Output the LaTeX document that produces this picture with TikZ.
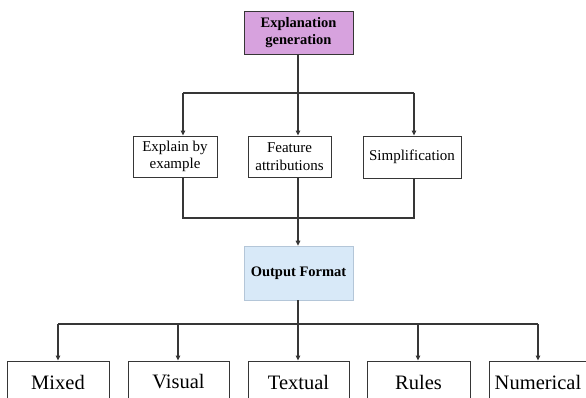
\documentclass[tikz,border=0pt]{standalone}
\usepackage{fontspec}
\setmainfont{Liberation Serif}
\usetikzlibrary{arrows.meta}
\definecolor{lc}{HTML}{363636}
\definecolor{purp}{HTML}{D7A2DE}
\definecolor{lblue}{HTML}{D8E9F8}
\definecolor{bblue}{HTML}{B4C6D8}
\begin{document}
\begin{tikzpicture}[x=1pt,y=-1pt,
  box/.style={draw=lc, line width=0.9pt, inner sep=0pt, align=center},
  midbox/.style={box, font=\fontsize{15}{17.5}\selectfont},
  lowbox/.style={box, font=\fontsize{20.5}{24}\selectfont, minimum height=42pt},
  conn/.style={draw=lc, line width=1.4pt},
  arr/.style={conn, -{Triangle[length=5pt,width=4.5pt]}}]
\useasboundingbox (0,0) rectangle (586,398);
\clip (0,0) rectangle (586,398);
\fill[white] (0,0) rectangle (586,398);
% nodes
\node[box, fill=purp, font=\fontsize{14.5}{17}\selectfont\bfseries, minimum width=109pt, minimum height=43pt] (top) at (298.5,32.5) {Explanation\\generation};
\node[midbox, minimum width=84pt, minimum height=41pt] (ex) at (175,156.5) {Explain by\\example};
\node[midbox, minimum width=83pt, minimum height=41pt] (fa) at (289.5,156.5) {Feature\\attributions};
\node[midbox, minimum width=98pt, minimum height=42pt] (si) at (412,157) {Simplification};
\node[draw=bblue, line width=0.7pt, fill=lblue, inner sep=0pt, font=\fontsize{14.5}{17}\selectfont\bfseries, minimum width=109pt, minimum height=54pt] (out) at (298.5,273) {Output Format};
\node[lowbox, minimum width=102pt] (mx) at (58,382) {Mixed};
\node[lowbox, minimum width=101pt] (vi) at (178.5,382) {Visual};
\node[lowbox, minimum width=101pt] (te) at (298.5,382) {Textual};
\node[lowbox, minimum width=103pt] (ru) at (418.5,382) {Rules};
\node[lowbox, minimum width=98pt] (nu) at (538,382) {Numerical};
% junction coordinates
\coordinate (t1) at (183,93);
\coordinate (t2) at (298,93);
\coordinate (t3) at (414,93);
\coordinate (m1) at (183,218);
\coordinate (m2) at (298,218);
\coordinate (m3) at (414,218);
\coordinate (b0) at (298,324);
\coordinate (b1) at (58,324);
\coordinate (b2) at (178,324);
\coordinate (b3) at (298,324);
\coordinate (b4) at (418,324);
\coordinate (b5) at (538,324);
% connectors top
\draw[conn] (top.south -| t2) -- (t2);
\draw[conn] (t1) -- (t3);
\draw[arr] (t1) -- (t1 |- ex.north);
\draw[arr] (t2) -- (t2 |- fa.north);
\draw[arr] (t3) -- (t3 |- si.north);
% connectors middle
\draw[conn] (m1 |- ex.south) -- (m1) -- (m3) -- (m3 |- si.south);
\draw[conn] (m2 |- fa.south) -- (m2);
\draw[arr] (m2) -- (m2 |- out.north);
% connectors bottom
\draw[conn] (out.south -| b0) -- (b0);
\draw[conn] (b1) -- (b5);
\draw[arr] (b1) -- (b1 |- mx.north);
\draw[arr] (b2) -- (b2 |- vi.north);
\draw[arr] (b3) -- (b3 |- te.north);
\draw[arr] (b4) -- (b4 |- ru.north);
\draw[arr] (b5) -- (b5 |- nu.north);
\end{tikzpicture}
\end{document}
